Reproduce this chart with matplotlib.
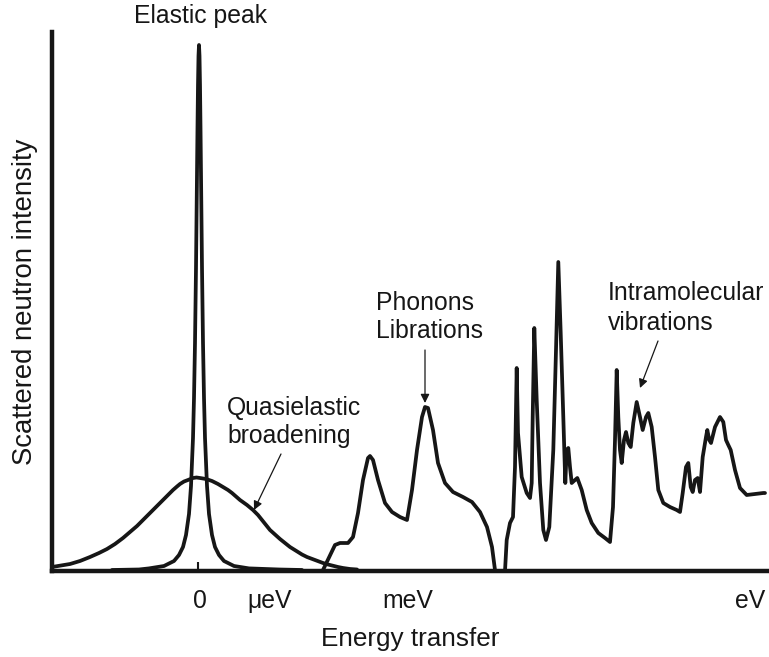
import matplotlib
matplotlib.use('Agg')
import matplotlib.pyplot as plt

plt.rcParams['font.family'] = ['Liberation Sans', 'DejaVu Sans']

# schematic spectrum, arbitrary units for energy and intensity
elastic_x = [60, 87, 97, 112, 122, 127, 131, 134, 137, 139, 141, 142, 143, 144, 145, 145.5,
             146, 146.5, 147, 147.5, 148, 148.5, 149, 150, 151, 152, 153, 155, 157, 160, 163,
             167, 172, 182, 197, 227, 250]
elastic_y = [1, 1.5, 2.6, 5, 10, 16, 24, 36, 57, 85, 133, 173, 228, 303, 397, 444,
             486, 515, 526, 515, 486, 444, 397, 303, 228, 173, 133, 85, 57, 36, 24,
             16, 10, 5, 2.6, 1.5, 1]

quasi_x = [0, 9, 18, 28, 38, 47, 55, 63, 71, 78, 85, 92, 98, 104, 110, 116, 121, 125,
           128, 132, 136, 141, 144.5, 148, 154, 160, 166, 171, 176, 180, 184, 188, 195,
           201, 206, 210, 214, 218, 223, 228, 233, 238, 242, 246, 250, 255, 259, 263,
           267, 271, 276, 280, 286, 291, 298, 305]
quasi_y = [4, 5.5, 7, 10, 14, 18, 22, 27, 33, 39, 45, 52, 58, 64, 70, 76, 81, 84.5,
           87, 89.5, 91, 93, 93.5, 93, 92, 90, 87, 84, 81, 78, 74.5, 71, 66,
           61, 56, 51, 46, 41, 36.5, 32, 28, 24, 21.5, 19, 16.5, 14, 12.5, 11,
           9.5, 8, 6.5, 5.5, 4, 3, 2, 1.5]

phonon_x = [271, 283, 288, 296, 301, 306, 311, 316, 318, 321, 326, 333, 340, 348, 355,
            360, 365, 370, 373, 376, 381, 386, 393, 401, 411, 420, 428, 435, 440, 443]
phonon_y = [1, 26, 28, 28, 34, 58, 91, 113, 115, 111, 91, 68, 59, 54, 51,
            81, 121, 154, 164, 163, 141, 108, 88, 79, 74, 69, 59, 44, 24, 1]

vib_x = [453, 454.7, 458, 461, 463, 464.7, 466, 469.7, 474.7, 478, 479.7, 480.7, 482.3,
         484.7, 488, 491.3, 494, 497.3, 501.3, 504, 506.3, 508.7, 511.3, 513.3, 514.7,
         516.3, 518, 519.7, 523, 525.3, 529.7, 534.7, 539.7, 546.3, 553, 558, 561, 563,
         564.7, 566.3, 568, 569.7, 572, 574, 576.3, 578.7, 581.3, 584.7, 588, 590.7, 594,
         596.3, 599.7, 603, 606.3, 611.3, 618, 624.7, 628, 630.7, 634, 636.3, 638.7, 640.7,
         643, 645.7, 648, 650.7, 654, 655.3, 657.3, 659, 663, 668, 671.3, 674, 676.3,
         678.7, 683, 688, 694.7, 703, 711.3, 713]
vib_y = [0, 31, 48, 54, 104, 203, 138, 94, 78, 73, 88, 154, 243,
         171, 88, 41, 31, 44, 121, 221, 309, 238, 154, 88, 121,
         123, 104, 88, 91, 93, 81, 61, 48, 38, 33, 29, 64, 131,
         201, 154, 121, 108, 131, 139, 128, 124, 148, 169, 154, 141, 154,
         158, 144, 114, 81, 68, 64, 61, 59, 78, 104, 108, 84, 79,
         91, 93, 79, 114, 134, 141, 131, 128, 144, 154, 149, 131, 126,
         121, 101, 83, 76, 77, 78, 78]

tick_pos = [148, 218, 356, 698]
tick_labels = ['0', 'μeV', 'meV', 'eV']

ink = '#161616'
fs = 17.8

fig = plt.figure(figsize=(7.69, 6.57), dpi=100)
ax = fig.add_axes([52 / 769, 86 / 657, 717 / 769, 539 / 657])

line_kw = dict(color=ink, lw=2.7, solid_joinstyle='round', solid_capstyle='round', clip_on=False)
ax.plot(quasi_x, quasi_y, **line_kw)
ax.plot(elastic_x, elastic_y, **line_kw)
ax.plot(phonon_x, phonon_y, **line_kw)
ax.plot(vib_x, vib_y, **line_kw)

ax.set_xlim(0, 717)
ax.set_ylim(0, 539)

for side in ['top', 'right']:
    ax.spines[side].set_visible(False)
for side in ['left', 'bottom']:
    ax.spines[side].set_linewidth(3.2)
    ax.spines[side].set_color(ink)

ax.set_yticks([])
ax.set_xticks(tick_pos)
ax.set_xticklabels(tick_labels, fontsize=fs)
ax.tick_params(axis='x', which='major', length=0, pad=13, colors=ink)
ax.set_xticks([146], minor=True)
ax.tick_params(axis='x', which='minor', direction='in', length=6.5, width=1.5, color=ink)

ax.set_xlabel('Energy transfer', fontsize=18.8, labelpad=10, color=ink)
ax.set_ylabel('Scattered neutron intensity', fontsize=19.8, labelpad=10, color=ink)

txt = dict(fontsize=fs, color=ink, va='baseline')
ax.text(149, 548, 'Elastic peak', ha='center', **txt)
ax.text(175, 156, 'Quasielastic', ha='left', **txt)
ax.text(175, 128, 'broadening', ha='left', **txt)
ax.text(324, 261, 'Phonons', ha='left', **txt)
ax.text(324, 233, 'Librations', ha='left', **txt)
ax.text(556, 271, 'Intramolecular', ha='left', **txt)
ax.text(556, 241, 'vibrations', ha='left', **txt)

arrow = dict(arrowstyle='-|>', color=ink, lw=0.9, mutation_scale=13, shrinkA=0, shrinkB=0)
ax.annotate('', xy=(202, 61), xytext=(229, 117), arrowprops=arrow)
ax.annotate('', xy=(373, 168), xytext=(373, 221), arrowprops=arrow)
ax.annotate('', xy=(588, 183), xytext=(606, 230), arrowprops=arrow)

fig.savefig('out.png', dpi=100)
